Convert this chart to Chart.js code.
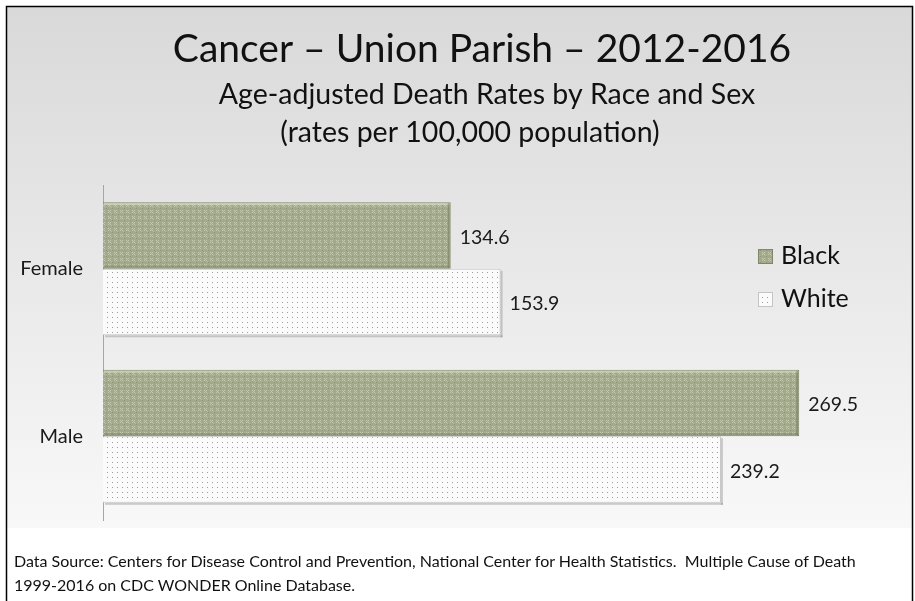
<!DOCTYPE html>
<html>
<head>
<meta charset="utf-8">
<script src="https://cdn.jsdelivr.net/npm/chart.js@4.4.1/dist/chart.umd.min.js"></script>
<style>
  html, body { margin: 0; padding: 0; background: #fff; }
  #wrap { position: relative; width: 915px; height: 601px; overflow: hidden; }
  #chart { position: absolute; left: 0; top: 0; }
  #source {
    position: absolute; left: 14px; top: 549px; width: 895px;
    font-family: Lato, sans-serif; font-size: 16px; line-height: 24px; color: #111;
  }
</style>
</head>
<body>
<div id="wrap">
  <canvas id="chart" width="915" height="601"></canvas>
  <div id="source">Data Source: Centers for Disease Control and Prevention, National Center for Health Statistics.&nbsp; Multiple Cause of Death<br>1999-2016 on CDC WONDER Online Database.</div>
</div>
<script>
// categories and rates (per 100,000)
const sexes = ['Female', 'Male'];
const races = ['Black', 'White'];
const blackRates = [134.6, 269.5];
const whiteRates = [153.9, 239.2];

const titleText = 'Cancer \u2013 Union Parish \u2013 2012-2016';
const subtitleLines = ['Age-adjusted Death Rates by Race and Sex', '(rates per 100,000 population)'];

// small tiled fills for the two races
function makePattern(size, base, dots) {
    const c = document.createElement('canvas');
    c.width = size;
    c.height = size;
    const g = c.getContext('2d');
    g.fillStyle = base;
    g.fillRect(0, 0, size, size);
    dots.forEach(d => {
        g.fillStyle = d[2];
        g.fillRect(d[0], d[1], 1, 1);
    });
    return g.createPattern(c, 'repeat');
}

const ctx = document.querySelector('#chart').getContext('2d');

const greenFill = makePattern(6, '#a2aa8b', [
    [0, 0, '#c3c9ae'], [2, 0, '#c3c9ae'], [1, 1, '#c3c9ae'],
    [0, 2, '#c3c9ae'], [2, 2, '#c3c9ae'], [4, 4, '#8e9677'], [3, 3, '#b3baa0']
]);
const dotFill = makePattern(5, '#fbfbfb', [[2, 2, '#9c9c9c']]);

// sheet background and frame
const backdrop = {
    id: 'backdrop',
    beforeDraw(chart) {
        const c = chart.ctx;
        c.save();
        c.fillStyle = '#ffffff';
        c.fillRect(0, 0, chart.width, chart.height);
        const grad = c.createLinearGradient(0, 7, 0, 528);
        grad.addColorStop(0, '#d9d9d9');
        grad.addColorStop(1, '#f8f8f8');
        c.fillStyle = grad;
        c.fillRect(7, 7, 905, 521);
        c.strokeStyle = '#000';
        c.lineWidth = 1.5;
        c.beginPath();
        c.moveTo(6.5, chart.height);
        c.lineTo(6.5, 6.5);
        c.lineTo(912.5, 6.5);
        c.lineTo(912.5, chart.height);
        c.stroke();
        c.restore();
    }
};

// title block, each line on its own centre
const headings = {
    id: 'headings',
    afterDraw(chart) {
        const c = chart.ctx;
        c.save();
        c.fillStyle = '#111';
        c.textAlign = 'center';
        c.textBaseline = 'alphabetic';
        c.font = '39px Lato';
        c.fillText(titleText, 482, 62);
        c.font = '28.5px Lato';
        c.fillText(subtitleLines[0], 487, 104);
        c.fillText(subtitleLines[1], 470, 142);
        c.restore();
    }
};

// soft bevel on the green bars and a drop shadow under the dotted ones
const barEdges = {
    id: 'barEdges',
    afterDatasetsDraw(chart) {
        const c = chart.ctx;
        c.save();
        chart.data.datasets.forEach((ds, i) => {
            chart.getDatasetMeta(i).data.forEach(bar => {
                const { x, y, base, height } = bar.getProps(['x', 'y', 'base', 'height'], true);
                const top = y - height / 2;
                const bottom = y + height / 2;
                if (i === 0) {
                    c.fillStyle = 'rgba(225,230,205,0.55)';
                    c.fillRect(base + 1, top + 1, x - base - 2, 2);
                    c.fillStyle = 'rgba(110,118,88,0.45)';
                    c.fillRect(base + 1, bottom - 3, x - base - 2, 2);
                    c.fillRect(x - 3, top + 1, 2, height - 2);
                } else {
                    c.fillStyle = 'rgba(120,120,120,0.35)';
                    c.fillRect(base + 2, bottom, x - base, 2);
                    c.fillRect(x, top + 2, 2, height);
                }
            });
        });
        c.restore();
    }
};

// value next to each bar
const barValues = {
    id: 'barValues',
    afterDatasetsDraw(chart) {
        const c = chart.ctx;
        c.save();
        c.font = '19.5px Lato';
        c.fillStyle = '#1a1a1a';
        c.textBaseline = 'middle';
        chart.data.datasets.forEach((ds, i) => {
            chart.getDatasetMeta(i).data.forEach((bar, j) => {
                c.fillText(ds.data[j].toFixed(1), bar.x + 9, bar.y + 2);
            });
        });
        c.restore();
    }
};

// legend drawn over the right side of the plot
const sideLegend = {
    id: 'sideLegend',
    afterDraw(chart) {
        const c = chart.ctx;
        c.save();
        c.font = '25px Lato';
        c.textBaseline = 'middle';
        chart.data.datasets.forEach((ds, i) => {
            const y = 256 + i * 43;
            c.fillStyle = ds.backgroundColor;
            c.fillRect(758, y - 7, 15, 15);
            c.strokeStyle = ds.borderColor;
            c.lineWidth = 1;
            c.strokeRect(758.5, y - 6.5, 14, 14);
            c.fillStyle = '#111';
            c.fillText(ds.label, 781, y);
        });
        c.restore();
    }
};

new Chart(ctx, {
    type: 'bar',
    data: {
        labels: sexes,
        datasets: [
            {
                label: races[0],
                data: blackRates,
                backgroundColor: greenFill,
                borderColor: '#7f876a',
                borderWidth: 1,
                borderSkipped: 'start'
            },
            {
                label: races[1],
                data: whiteRates,
                backgroundColor: dotFill,
                borderColor: '#c4c4c4',
                borderWidth: 1,
                borderSkipped: 'start'
            }
        ]
    },
    options: {
        indexAxis: 'y',
        responsive: false,
        animation: false,
        categoryPercentage: 0.795,
        barPercentage: 1.0,
        layout: { padding: { left: 0, right: 37, top: 185, bottom: 81 } },
        scales: {
            x: { display: false, min: 0, max: 300 },
            y: {
                grid: { display: false },
                border: { display: true, color: '#a6a6a6' },
                ticks: { padding: 12, color: '#1a1a1a', font: { family: 'Lato', size: 20 } },
                afterFit(scale) { scale.width = 103; }
            }
        },
        plugins: {
            legend: { display: false },
            tooltip: { enabled: false }
        }
    },
    plugins: [backdrop, headings, barEdges, barValues, sideLegend]
});
</script>
</body>
</html>
